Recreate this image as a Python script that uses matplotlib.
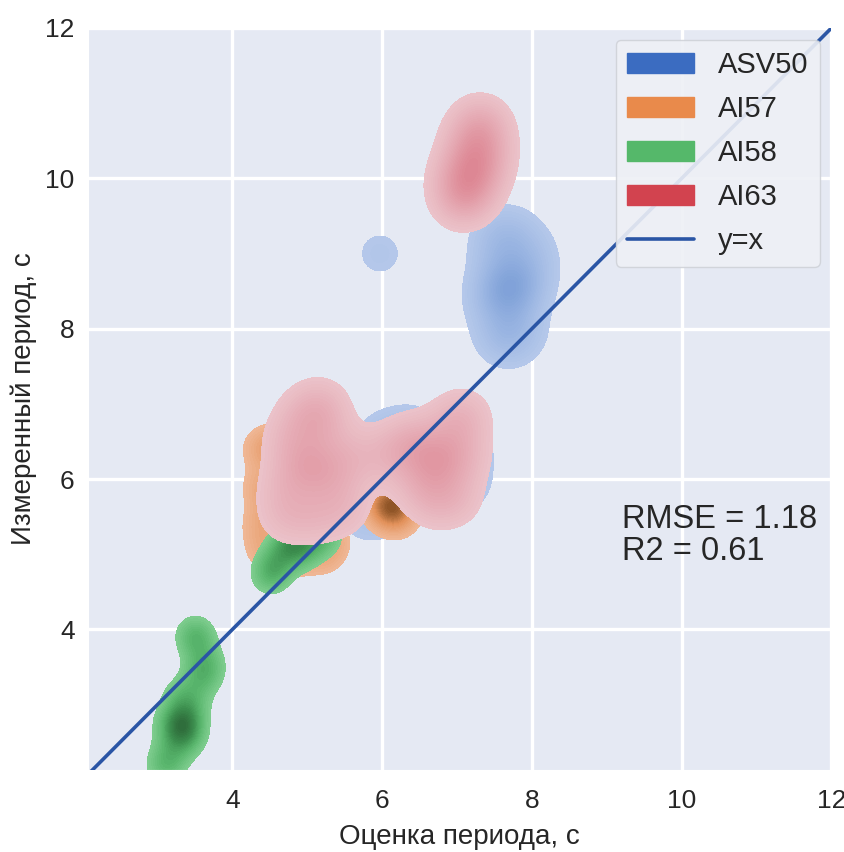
import numpy as np
import matplotlib.pyplot as plt
import seaborn as sns
from matplotlib.colors import LinearSegmentedColormap
from matplotlib.patches import Patch
from matplotlib.lines import Line2D

sns.set_style("darkgrid", {"axes.facecolor": "#e5e9f3"})
plt.rcParams['font.family'] = ['Liberation Sans', 'DejaVu Sans']
plt.rcParams['grid.linewidth'] = 2.4

groups = ["ASV50", "AI57", "AI58", "AI63"]
legend_colors = ["#3b6cc1", "#e98a4b", "#55b86a", "#d2434f"]
# light -> dark ramps for the filled density contours
ramps = [["#b5c8ea", "#9ab5e2", "#7fa1d8"],
         ["#f0b896", "#e2915a", "#8a5124"],
         ["#7fcd8f", "#58b56c", "#3c8e4e", "#2e6b3a"],
         ["#ebc3ca", "#e4a5af", "#dd8592"]]

# estimated period vs measured period, points read off the density shapes
asv50_x = [7.70, 7.70, 7.68, 7.72, 7.55, 7.75, 7.55, 7.45, 7.95, 7.60, 7.85, 7.68, 8.00,
           5.97,
           5.95, 6.30, 6.60, 7.00, 7.12, 5.75, 6.10, 6.80, 7.12, 6.40]
asv50_y = [8.50, 8.55, 8.45, 8.60, 8.95, 9.25, 9.25, 8.40, 8.65, 7.95, 8.00, 7.85, 9.00,
           9.00,
           6.55, 6.45, 6.10, 6.25, 6.50, 5.50, 5.60, 5.75, 5.95, 6.65]

ai57_x = [4.40, 4.40, 4.40, 4.45, 4.80, 5.20, 5.30, 4.90, 4.80, 4.60, 4.60,
          6.15, 6.15, 6.12, 6.02, 6.20]
ai57_y = [6.40, 5.90, 5.40, 5.05, 4.95, 5.00, 5.20, 5.60, 6.20, 6.45, 5.70,
          5.66, 5.63, 5.68, 5.66, 5.50]

ai58_x = [3.35, 3.36, 3.34, 3.45, 3.25, 3.15, 3.10, 3.40, 3.55, 3.65, 3.62,
          3.52, 3.50, 3.30, 3.20,
          4.76, 4.77, 4.55, 4.60, 4.90, 5.10, 5.25, 4.50, 4.95]
ai58_y = [2.75, 2.78, 2.72, 3.00, 2.50, 2.30, 2.15, 2.55, 3.30, 3.45, 3.60,
          3.85, 3.95, 3.10, 2.75,
          5.13, 5.14, 4.80, 4.95, 5.00, 5.15, 5.25, 4.70, 5.25]

ai63_x = [7.20, 7.22, 7.35, 7.30, 7.10, 7.00, 7.40, 7.05, 7.25, 7.18,
          5.00, 5.05, 5.20, 5.20, 4.75, 4.70, 4.70, 5.10, 5.50, 5.55, 4.95, 5.35,
          6.00,
          6.75, 6.78, 6.95, 7.10, 6.45, 6.50, 6.70, 7.00, 7.10, 6.35]
ai63_y = [10.20, 10.15, 10.65, 10.75, 9.75, 10.00, 10.30, 9.70, 9.90, 10.50,
          6.20, 6.15, 6.70, 7.00, 6.50, 5.90, 5.50, 5.50, 5.60, 6.30, 6.85, 6.00,
          6.30,
          6.25, 6.22, 6.70, 6.85, 6.40, 5.95, 5.70, 5.75, 6.30, 6.50]

xs = [asv50_x, ai57_x, ai58_x, ai63_x]
ys = [asv50_y, ai57_y, ai58_y, ai63_y]
bws = [0.27, 0.2, 0.17, 0.27]

rmse = 1.18
r2 = 0.61
lo, hi = 2.07, 12.0
ylo = 2.13

fig = plt.figure(figsize=(8.45, 8.52), dpi=100)
ax = fig.add_axes([0.104, 0.0962, 0.880, 0.871])

gx, gy = np.meshgrid(np.linspace(lo, hi, 330), np.linspace(ylo, hi, 330))
for i in range(len(groups)):
    dens = np.zeros_like(gx)
    for px, py in zip(xs[i], ys[i]):
        dens += np.exp(-((gx - px) ** 2 + (gy - py) ** 2) / (2 * bws[i] ** 2))
    dens /= dens.max()
    cmap = LinearSegmentedColormap.from_list(groups[i], ramps[i])
    levels = np.linspace(0.12, 1.0, 25)
    ax.contourf(gx, gy, dens, levels=list(levels) + [1.01], cmap=cmap, zorder=2)

ax.plot([lo, hi], [lo, hi], color="#2a55a5", lw=2.6, zorder=3)

ax.text(9.2, 5.25, f"RMSE = {rmse}\nR2 = {r2}", fontsize=23.5, va="center", ha="left",
        linespacing=1.05, zorder=4)

ax.set_xlim(lo, hi)
ax.set_ylim(ylo, hi)
ax.set_xticks([4, 6, 8, 10, 12])
ax.set_yticks([4, 6, 8, 10, 12])
ax.tick_params(labelsize=19)
ax.tick_params(axis="x", pad=10)
ax.tick_params(axis="y", pad=6)
ax.set_xlabel("Оценка периода, с", fontsize=20, labelpad=8)
ax.set_ylabel("Измеренный период, с", fontsize=20, labelpad=6)

handles = [Patch(facecolor=c, edgecolor=c) for c in legend_colors]
handles.append(Line2D([0], [0], color="#2a55a5", lw=2.6))
ax.legend(handles, groups + ["y=x"], loc="upper right", fontsize=21,
          handlelength=2.3, handletextpad=0.8, labelspacing=0.55,
          borderaxespad=0.4, facecolor="#eef0f6", edgecolor="#cfd2d8", framealpha=0.9)

fig.savefig("out.png", dpi=100)
